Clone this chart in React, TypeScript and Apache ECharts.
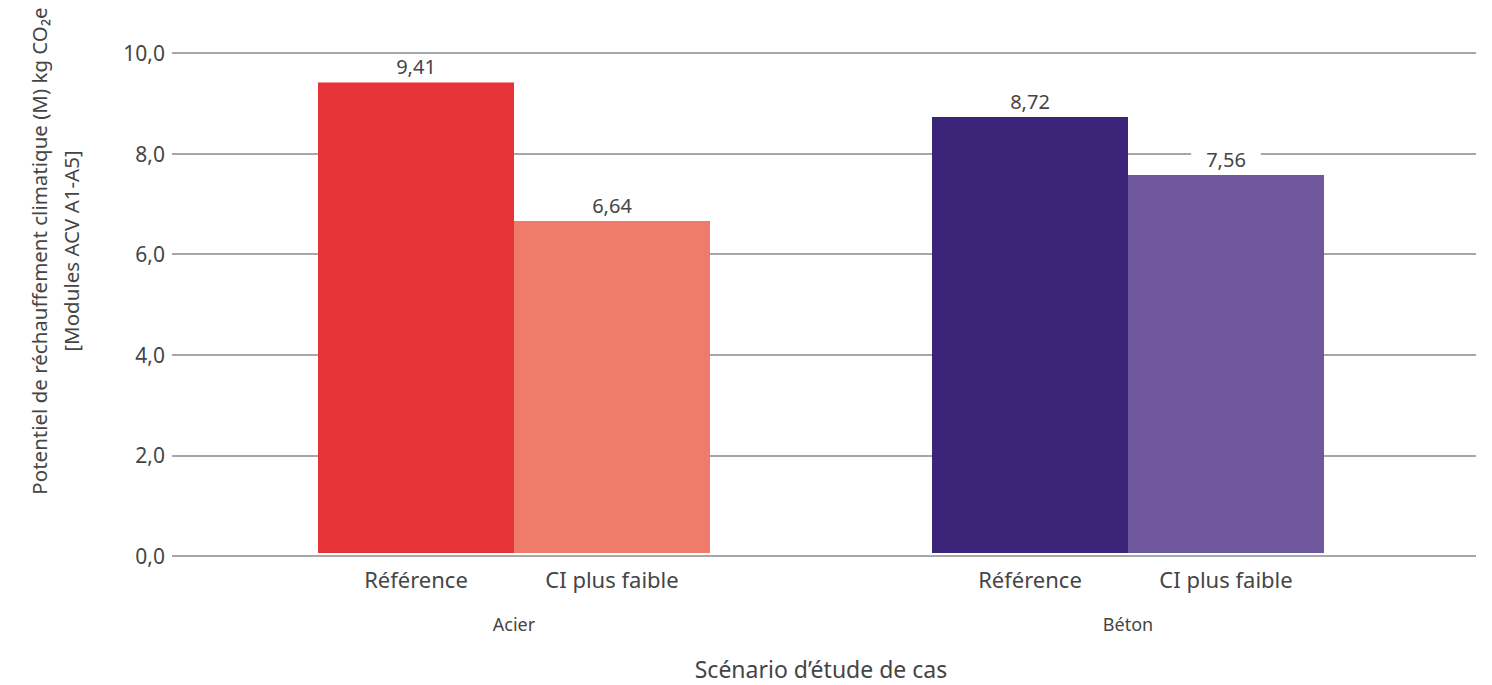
import React, { useEffect, useRef } from "react";
import * as echarts from "echarts";

// Scenario groups and the two variants shown for each
const groups = ["Acier", "Béton"];
const variants = ["Référence", "CI plus faible"];
const referenceValues = [9.41, 8.72];
const lowerCiValues = [6.64, 7.56];
const referenceColors = ["#E63337", "#3C2479"];
const lowerCiColors = ["#EF7B6B", "#6E579D"];
const yTicks = { min: 0, max: 10, interval: 2 };

const FONT = "Noto Sans";
const TEXT = "#454545";

const fmt = (v: number, d: number) => v.toFixed(d).replace(".", ",");

export default function App() {
  const ref = useRef<HTMLDivElement>(null);

  useEffect(() => {
    document.body.style.margin = "0";
    if (!ref.current) return;
    const chart = echarts.init(ref.current, undefined, { renderer: "svg" });

    const top = 53;
    const bottom = 685 - 556;

    const valueLabel = {
      show: true,
      position: "top",
      distance: 5,
      color: TEXT,
      fontFamily: FONT,
      fontSize: 20,
      backgroundColor: "#ffffff",
      padding: [1, 15],
      formatter: (p: any) => fmt(p.value, 2),
    };

    const variantLabel = (name: string) => ({
      show: true,
      position: "bottom",
      distance: 15,
      color: TEXT,
      fontFamily: FONT,
      fontSize: 22,
      formatter: name,
    });

    chart.setOption({
      animation: false,
      textStyle: { fontFamily: FONT },
      grid: [
        { left: 172, right: 16, top, bottom },
        { left: 207, width: 1228, top, bottom },
      ],
      xAxis: [
        { type: "category", gridIndex: 0, data: groups, show: false },
        {
          type: "category",
          gridIndex: 1,
          data: groups,
          axisLine: { show: false },
          axisTick: { show: false },
          axisLabel: { margin: 62, color: TEXT, fontSize: 18, fontFamily: FONT },
          name: "Scénario d’étude de cas",
          nameLocation: "middle",
          nameGap: 104,
          nameTextStyle: { color: TEXT, fontSize: 23, fontFamily: FONT },
        },
      ],
      yAxis: [
        {
          type: "value",
          gridIndex: 0,
          min: yTicks.min,
          max: yTicks.max,
          interval: yTicks.interval,
          axisLine: { show: false },
          axisTick: { show: false },
          axisLabel: {
            margin: 7,
            color: TEXT,
            fontSize: 21,
            fontFamily: FONT,
            formatter: (v: number) => fmt(v, 1),
          },
          splitLine: { lineStyle: { color: "#8a8a8a", width: 1.5 } },
        },
        {
          type: "value",
          gridIndex: 1,
          min: yTicks.min,
          max: yTicks.max,
          interval: yTicks.interval,
          show: false,
          splitLine: { show: false },
        },
      ],
      series: [
        {
          type: "bar",
          name: variants[0] + "-label",
          xAxisIndex: 1,
          yAxisIndex: 1,
          stack: "ref",
          barWidth: 196,
          barGap: "0%",
          data: groups.map(() => 0),
          itemStyle: { color: "transparent" },
          label: variantLabel(variants[0]),
          silent: true,
        },
        {
          type: "bar",
          name: variants[0],
          xAxisIndex: 1,
          yAxisIndex: 1,
          stack: "ref",
          barWidth: 196,
          barGap: "0%",
          data: referenceValues.map((v, i) => ({
            value: v,
            itemStyle: { color: referenceColors[i] },
          })),
          label: valueLabel,
        },
        {
          type: "bar",
          name: variants[1] + "-label",
          xAxisIndex: 1,
          yAxisIndex: 1,
          stack: "ci",
          barWidth: 196,
          barGap: "0%",
          data: groups.map(() => 0),
          itemStyle: { color: "transparent" },
          label: variantLabel(variants[1]),
          silent: true,
        },
        {
          type: "bar",
          name: variants[1],
          xAxisIndex: 1,
          yAxisIndex: 1,
          stack: "ci",
          barWidth: 196,
          barGap: "0%",
          data: lowerCiValues.map((v, i) => ({
            value: v,
            itemStyle: { color: lowerCiColors[i] },
          })),
          label: valueLabel,
        },
      ],
      graphic: [
        {
          type: "text",
          x: 55,
          y: 251,
          rotation: Math.PI / 2,
          style: {
            text: "Potentiel de réchauffement climatique (M) kg CO₂e\n[Modules ACV A1-A5]",
            fill: TEXT,
            fontFamily: FONT,
            fontSize: 20.5,
            lineHeight: 32,
            align: "center",
            verticalAlign: "middle",
          },
        },
      ],
    });

    return () => chart.dispose();
  }, []);

  return <div ref={ref} style={{ width: 1492, height: 685 }} />;
}
